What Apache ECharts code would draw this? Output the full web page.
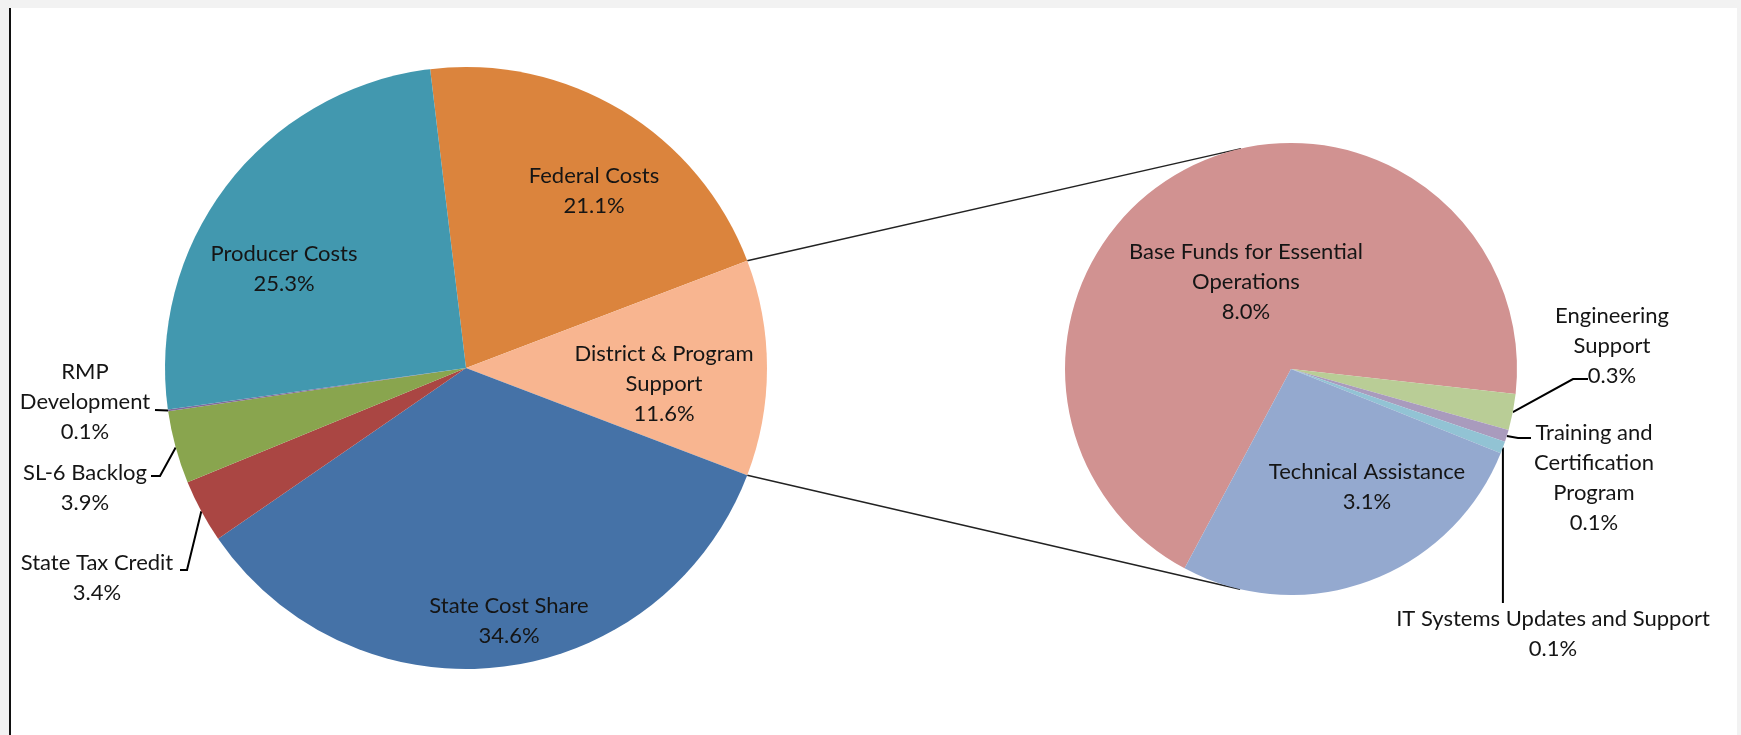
<!DOCTYPE html>
<html>
<head>
<meta charset="utf-8">
<script src="https://cdn.jsdelivr.net/npm/echarts@6/dist/echarts.min.js"></script>
<style>
html, body { margin: 0; padding: 0; background: #f2f2f2; overflow: hidden; }
#frame { position: absolute; left: 9px; top: 8px; width: 1726px; height: 727px; background: #fff; border-left: 2px solid #111; }
#chart { position: absolute; left: 0; top: 0; width: 1741px; height: 735px; }
</style>
</head>
<body>
<div id="frame"></div>
<div id="chart"></div>
<script>
// main pie (share of total, %)
var mainNames  = ['Federal Costs', 'District & Program\nSupport', 'State Cost Share', 'State Tax Credit', 'SL-6 Backlog', 'RMP\nDevelopment', 'Producer Costs'];
var mainValues = [21.1, 11.6, 34.6, 3.4, 3.9, 0.1, 25.3];
var mainColors = ['#DB843D', '#F8B590', '#4572A7', '#AA4643', '#89A54E', '#80699B', '#4298AF'];

// breakdown of "District & Program Support" (share of total, %)
var subNames  = ['Base Funds for Essential\nOperations', 'Engineering\nSupport', 'Training and\nCertification\nProgram', 'IT Systems Updates and Support', 'Technical Assistance'];
var subValues = [8.0, 0.3, 0.1, 0.1, 3.1];
var subColors = ['#D19291', '#B9CD96', '#A99BBD', '#92C3D4', '#94A9CF'];

var splitIndex = 1; // slice of the main pie that is broken out

// geometry
var mainC = [466, 368], mainR = 301;
var subC = [1291, 369], subR = 226;
var mainTotal = mainValues.reduce(function (a, b) { return a + b; }, 0);
var subTotal = subValues.reduce(function (a, b) { return a + b; }, 0);
var before = 0;
for (var i = 0; i < splitIndex; i++) before += mainValues[i];
var mainStart = (before + mainValues[splitIndex] / 2) / mainTotal * 360;   // split slice centred at 3 o'clock
var subStart = 241.9;

// label placement (centre of text block) and leader line bends
var mainLabelPos = [
    { x: 594, y: 191 },
    { x: 664, y: 384 },
    { x: 509, y: 621 },
    { x: 97, y: 578, line: [[187, 570], [180, 570]] },
    { x: 85, y: 488, line: [[160, 476], [151, 476]] },
    { x: 85, y: 402, line: [[155, 410]] },
    { x: 284, y: 269 }
];
var subLabelPos = [
    { x: 1246, y: 282 },
    { x: 1612, y: 346, line: [[1573, 379], [1588, 379]] },
    { x: 1594, y: 478, line: [[1518, 438], [1531, 438]] },
    { x: 1553, y: 634, line: 'down', to: 603 },
    { x: 1367, y: 487 }
];

function midPoint(c, r, start, values, total, idx) {
    var cum = 0;
    for (var k = 0; k < idx; k++) cum += values[k];
    var a = (start - (cum + values[idx] / 2) / total * 360) * Math.PI / 180;
    return [c[0] + r * Math.cos(a), c[1] - r * Math.sin(a)];
}

function edgeAt(c, r, deg) {
    var a = deg * Math.PI / 180;
    return [c[0] + r * Math.cos(a), c[1] - r * Math.sin(a)];
}

function tangent(p, c, r, upper) {
    var vx = p[0] - c[0], vy = p[1] - c[1];
    var d = Math.sqrt(vx * vx + vy * vy);
    var phi = Math.atan2(vy, vx), off = Math.acos(r / d);
    var t1 = [c[0] + r * Math.cos(phi + off), c[1] + r * Math.sin(phi + off)];
    var t2 = [c[0] + r * Math.cos(phi - off), c[1] + r * Math.sin(phi - off)];
    if (upper) return t1[1] < t2[1] ? t1 : t2;
    return t1[1] > t2[1] ? t1 : t2;
}

function makeData(names, values, colors, pos) {
    return names.map(function (n, i) {
        var outside = !!pos[i].line;
        return {
            name: n,
            value: values[i],
            itemStyle: { color: colors[i] },
            label: { position: outside ? 'outside' : 'inside' },
            labelLine: { show: outside }
        };
    });
}

function makeLayout(c, r, start, values, total, pos) {
    return function (p) {
        var L = pos[p.dataIndex];
        var out = { x: L.x, y: L.y, align: 'center', verticalAlign: 'middle' };
        if (L.line) {
            var e = midPoint(c, r, start, values, total, p.dataIndex);
            out.labelLinePoints = L.line === 'down' ? [e, [e[0], L.to]] : [e].concat(L.line);
        }
        return out;
    };
}

var labelStyle = {
    fontFamily: 'Lato, "Open Sans", sans-serif',
    fontSize: 22,
    lineHeight: 30,
    color: '#151515',
    formatter: function (p) { return p.name + '\n' + p.value.toFixed(1) + '%'; }
};

var aTop = mainStart - before / mainTotal * 360;
var aBot = aTop - mainValues[splitIndex] / mainTotal * 360;
var pTop = edgeAt(mainC, mainR, aTop), pBot = edgeAt(mainC, mainR, aBot);
var tTop = tangent(pTop, subC, subR, true), tBot = tangent(pBot, subC, subR, false);

var chart = echarts.init(document.getElementById('chart'), null, { renderer: 'canvas' });
chart.setOption({
    backgroundColor: 'transparent',
    animation: false,
    series: [{
        type: 'pie',
        center: mainC,
        radius: mainR,
        startAngle: mainStart,
        clockwise: true,
        avoidLabelOverlap: false,
        silent: true,
        label: labelStyle,
        labelLine: { show: true, smooth: false, lineStyle: { color: '#000', width: 2 } },
        labelLayout: makeLayout(mainC, mainR, mainStart, mainValues, mainTotal, mainLabelPos),
        data: makeData(mainNames, mainValues, mainColors, mainLabelPos)
    }, {
        type: 'pie',
        center: subC,
        radius: subR,
        startAngle: subStart,
        clockwise: true,
        avoidLabelOverlap: false,
        silent: true,
        label: labelStyle,
        labelLine: { show: true, smooth: false, lineStyle: { color: '#000', width: 2 } },
        labelLayout: makeLayout(subC, subR, subStart, subValues, subTotal, subLabelPos),
        data: makeData(subNames, subValues, subColors, subLabelPos)
    }],
    graphic: [
        { type: 'line', silent: true, shape: { x1: pTop[0], y1: pTop[1], x2: tTop[0], y2: tTop[1] }, style: { stroke: '#222', lineWidth: 1.5 } },
        { type: 'line', silent: true, shape: { x1: pBot[0], y1: pBot[1], x2: tBot[0], y2: tBot[1] }, style: { stroke: '#222', lineWidth: 1.5 } }
    ]
});
</script>
</body>
</html>
